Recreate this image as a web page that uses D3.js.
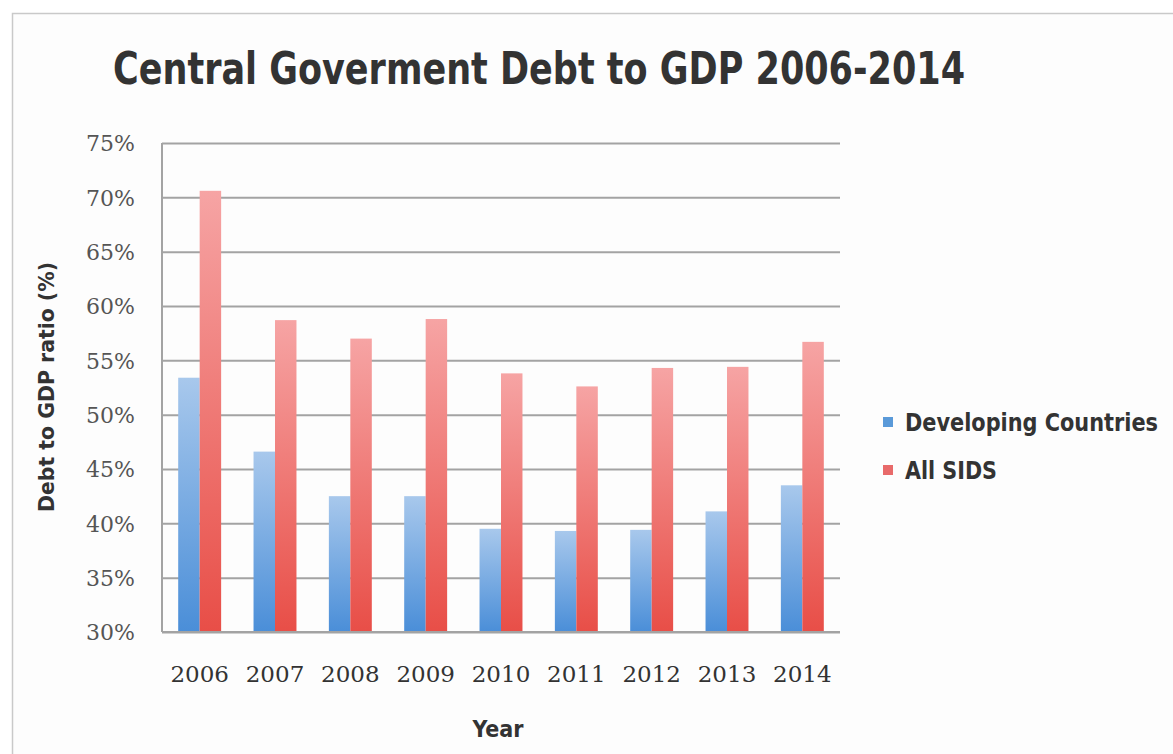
<!DOCTYPE html>
<html><head><meta charset="utf-8">
<script src="https://cdn.jsdelivr.net/npm/d3@7/dist/d3.min.js"></script>
<style>
body{margin:0;background:#fff;}
svg{display:block;}
.cond{font-family:'DejaVu Sans Condensed','DejaVu Sans',sans-serif;font-stretch:condensed;font-weight:bold;}
</style></head>
<body>
<svg id="chart" width="1173" height="754"></svg>
<script>
const years = ["2006","2007","2008","2009","2010","2011","2012","2013","2014"];
const developing = [53.4, 46.6, 42.5, 42.5, 39.5, 39.3, 39.4, 41.1, 43.5];
const allSids = [70.6, 58.7, 57.0, 58.8, 53.8, 52.6, 54.3, 54.4, 56.7];
const seriesNames = ["Developing Countries", "All SIDS"];
const yTicks = [30, 35, 40, 45, 50, 55, 60, 65, 70, 75];

const svg = d3.select("#chart");
const W = 1173, H = 754;
const m = {left: 162, right: 840, top: 143, bottom: 632};

svg.append("rect").attr("x", 12.5).attr("y", 13.5).attr("width", W).attr("height", H)
  .attr("fill", "#fdfdfd").attr("stroke", "#c9c9c9").attr("stroke-width", 1.5);

const defs = svg.append("defs");
const gB = defs.append("linearGradient").attr("id", "gBlue").attr("x1", 0).attr("y1", 0).attr("x2", 0).attr("y2", 1);
gB.append("stop").attr("offset", "0%").attr("stop-color", "#a8c8ec");
gB.append("stop").attr("offset", "100%").attr("stop-color", "#4a8ed8");
const gR = defs.append("linearGradient").attr("id", "gRed").attr("x1", 0).attr("y1", 0).attr("x2", 0).attr("y2", 1);
gR.append("stop").attr("offset", "0%").attr("stop-color", "#f6a4a4");
gR.append("stop").attr("offset", "100%").attr("stop-color", "#e84e47");
const fills = ["url(#gBlue)", "url(#gRed)"];
const legendColors = ["#5a9ad9", "#e86a6a"];
const legendLens = [253, 92];

const x = d3.scaleBand().domain(years).range([m.left, m.right]).paddingInner(0.43).paddingOuter(0.215);
const xs = d3.scaleBand().domain(seriesNames).range([0, x.bandwidth()]).padding(0);
const y = d3.scaleLinear().domain([30, 75]).range([m.bottom, m.top]);

// gridlines
const grid = svg.append("g").attr("transform", `translate(${m.left},0)`)
  .call(d3.axisLeft(y).tickValues(yTicks).tickSize(-(m.right - m.left)).tickFormat(""));
grid.select(".domain").remove();
grid.selectAll(".tick line").attr("stroke", "#a3a3a3").attr("stroke-width", 2);

// bars
const data = years.map((yr, i) => ({year: yr, vals: [developing[i], allSids[i]]}));
const groups = svg.append("g").selectAll("g").data(data).join("g")
  .attr("transform", d => `translate(${x(d.year)},0)`);
groups.selectAll("rect").data(d => d.vals.map((v, j) => ({name: seriesNames[j], v, j})))
  .join("rect")
  .attr("x", d => xs(d.name))
  .attr("width", xs.bandwidth())
  .attr("y", d => y(d.v))
  .attr("height", d => y(30) - y(d.v))
  .attr("fill", d => fills[d.j]);

// axis lines
svg.append("line").attr("x1", m.left).attr("x2", m.left).attr("y1", m.top).attr("y2", m.bottom)
  .attr("stroke", "#a3a3a3").attr("stroke-width", 2);
svg.append("line").attr("x1", m.left).attr("x2", m.right).attr("y1", m.bottom).attr("y2", m.bottom)
  .attr("stroke", "#a3a3a3").attr("stroke-width", 2);

// y tick labels
const ya = svg.append("g").attr("transform", `translate(${m.left},0)`)
  .call(d3.axisLeft(y).tickValues(yTicks).tickSize(0).tickPadding(27).tickFormat(d => d + "%"));
ya.select(".domain").remove();
ya.selectAll("text").attr("font-family", "'DejaVu Serif', serif").attr("font-size", 22)
  .attr("fill", "#555").attr("font-weight", "normal").attr("dy", "0.36em");

// x tick labels
const xa = svg.append("g").attr("transform", `translate(0,${m.bottom})`)
  .call(d3.axisBottom(x).tickSize(0).tickPadding(34));
xa.select(".domain").remove();
xa.selectAll("text").attr("font-family", "'DejaVu Serif', serif").attr("font-size", 23)
  .attr("fill", "#333").attr("font-weight", "normal");

// title
svg.append("text").attr("class", "cond").attr("x", 113).attr("y", 84)
  .attr("font-size", 44).attr("fill", "#333")
  .attr("textLength", 852).attr("lengthAdjust", "spacingAndGlyphs")
  .text("Central Goverment Debt to GDP 2006-2014");

// axis titles
svg.append("text").attr("class", "cond").attr("transform", "translate(54,387) rotate(-90)")
  .attr("text-anchor", "middle")
  .attr("font-size", 22).attr("fill", "#333")
  .attr("textLength", 250).attr("lengthAdjust", "spacingAndGlyphs")
  .text("Debt to GDP ratio (%)");
svg.append("text").attr("class", "cond").attr("x", 498).attr("y", 737).attr("text-anchor", "middle")
  .attr("font-size", 23).attr("fill", "#333")
  .text("Year");

// legend
const lg = svg.append("g");
seriesNames.forEach((n, i) => {
  const cy = 422 + i * 48;
  lg.append("rect").attr("x", 883).attr("y", cy - 5).attr("width", 10).attr("height", 10)
    .attr("fill", legendColors[i]);
  lg.append("text").attr("class", "cond").attr("x", 905).attr("y", cy).attr("dy", "0.36em")
    .attr("font-size", 24).attr("fill", "#333")
    .attr("textLength", legendLens[i]).attr("lengthAdjust", "spacingAndGlyphs")
    .text(n);
});
</script>
</body></html>
